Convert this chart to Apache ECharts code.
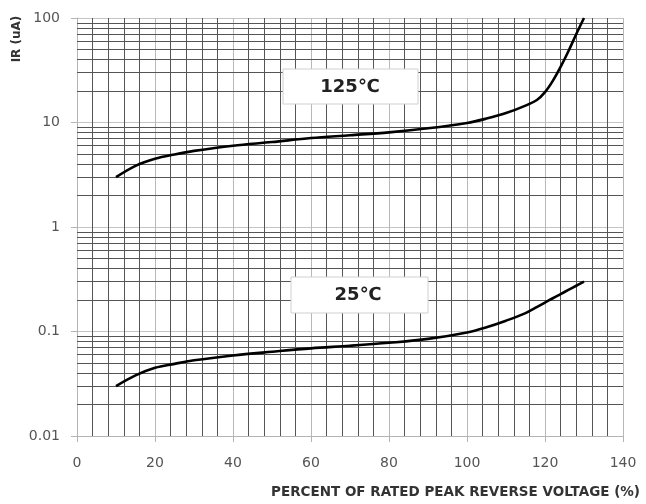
<!DOCTYPE html>
<html>
<head>
<meta charset="utf-8">
<script src="https://cdn.jsdelivr.net/npm/echarts@6/dist/echarts.min.js"></script>
<style>
html,body{margin:0;padding:0;background:#fff;}
#chart{width:646px;height:504px;}
</style>
</head>
<body>
<div id="chart"></div>
<script>
// ---- data ----
var xPercent = [10, 15, 20, 25, 30, 40, 50, 60, 70, 80, 90, 100, 105, 110, 115, 118, 120, 122, 124, 126, 128, 130];
var ir125 = [3.0, 3.85, 4.5, 4.95, 5.35, 6.0, 6.5, 7.1, 7.55, 8.05, 8.8, 9.9, 10.9, 12.3, 14.5, 16.5, 19.5, 25, 34, 48, 70, 100];
var ir25 = [0.030, 0.038, 0.045, 0.049, 0.053, 0.059, 0.064, 0.069, 0.073, 0.078, 0.085, 0.098, 0.110, 0.127, 0.150, 0.172, 0.189, 0.208, 0.228, 0.250, 0.274, 0.30];
var seriesNames = ['125℃', '25℃'];
var xTicks = [0, 20, 40, 60, 80, 100, 120, 140];
var yDecades = [0.01, 0.1, 1, 10, 100];
var minorMultipliers = [2, 3, 4, 5, 6, 7, 8, 9];
var xAxisTitle = 'PERCENT OF RATED PEAK REVERSE VOLTAGE (%)';
var yAxisTitle = 'IR (uA)';

function pairs(xs, ys) { return xs.map(function (x, i) { return [x, ys[i]]; }); }

var minorLines = [];
yDecades.slice(0, -1).forEach(function (d) {
  minorMultipliers.forEach(function (m) { minorLines.push({ yAxis: +(d * m).toPrecision(3) }); });
});

var chart = echarts.init(document.getElementById('chart'), null, { renderer: 'canvas' });
var font = 'DejaVu Sans, Verdana, sans-serif';

chart.setOption({
  animation: false,
  backgroundColor: '#fff',
  grid: { left: 77, right: 23, top: 18, bottom: 68, containLabel: false },
  xAxis: {
    type: 'value', min: xTicks[0], max: xTicks[xTicks.length - 1], interval: 20,
    axisLine: { show: true, lineStyle: { color: '#b4b4b4', width: 1 } },
    axisTick: { show: true, length: 6, lineStyle: { color: '#b4b4b4' } },
    axisLabel: { color: '#555', fontFamily: font, fontSize: 14, margin: 20 },
    splitLine: { show: true, lineStyle: { color: '#b8b8b8', width: 1 } },
    minorTick: { show: false, splitNumber: 5 },
    minorSplitLine: { show: true, lineStyle: { color: '#555', width: 1 } }
  },
  yAxis: {
    type: 'log', logBase: 10, min: yDecades[0], max: yDecades[yDecades.length - 1],
    axisLine: { show: true, lineStyle: { color: '#b4b4b4', width: 1 } },
    axisTick: { show: true, length: 6, lineStyle: { color: '#b4b4b4' } },
    axisLabel: { color: '#555', fontFamily: font, fontSize: 14, margin: 17,
      formatter: function (v) { return String(v); } },
    splitLine: { show: true, lineStyle: { color: '#c4c4c4', width: 1 } }
  },
  series: [
    {
      name: 'grid', type: 'line', data: [], silent: true,
      markLine: {
        silent: true, symbol: 'none', animation: false,
        label: { show: false },
        lineStyle: { color: '#555', width: 1, type: 'solid' },
        emphasis: { disabled: true },
        data: minorLines
      }
    },
    {
      name: seriesNames[0], type: 'line', data: pairs(xPercent, ir125),
      smooth: 0.35, showSymbol: false,
      lineStyle: { color: '#000', width: 2.6 }, z: 5
    },
    {
      name: seriesNames[1], type: 'line', data: pairs(xPercent, ir25),
      smooth: 0.35, showSymbol: false,
      lineStyle: { color: '#000', width: 2.6 }, z: 5
    }
  ],
  graphic: [
    { type: 'rect', shape: { x: 283, y: 69, width: 135, height: 35 },
      style: { fill: '#fff', stroke: '#d0d0d0', lineWidth: 1 }, z: 10 },
    { type: 'text', x: 350, y: 87, z: 11,
      style: { text: seriesNames[0], fill: '#222', font: 'bold 18px ' + font, textAlign: 'center', textVerticalAlign: 'middle' } },
    { type: 'rect', shape: { x: 291, y: 277, width: 137, height: 36 },
      style: { fill: '#fff', stroke: '#d0d0d0', lineWidth: 1 }, z: 10 },
    { type: 'text', x: 358, y: 295, z: 11,
      style: { text: seriesNames[1], fill: '#222', font: 'bold 18px ' + font, textAlign: 'center', textVerticalAlign: 'middle' } },
    { type: 'text', x: 17, y: 39, rotation: Math.PI / 2, z: 11,
      style: { text: yAxisTitle, fill: '#333', font: 'bold 12px ' + font, textAlign: 'center', textVerticalAlign: 'middle' } },
    { type: 'text', x: 640, y: 492, z: 11,
      style: { text: xAxisTitle, fill: '#333', font: 'bold 13.5px ' + font, textAlign: 'right', textVerticalAlign: 'middle' } }
  ]
});
</script>
</body>
</html>
